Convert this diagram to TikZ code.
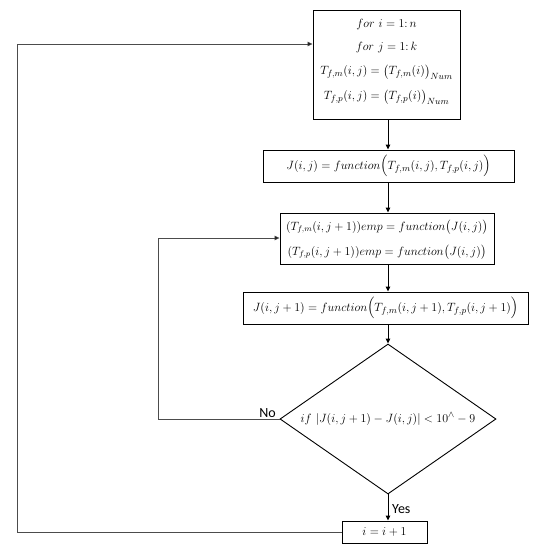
\documentclass[tikz,border=0pt]{standalone}
\usepackage{fontspec}
\usepackage{amsmath}
\newfontfamily\lblfont{Carlito}
\usetikzlibrary{shapes.geometric,arrows.meta}
\begin{document}
\begin{tikzpicture}[x=1pt,y=-1pt,
  box/.style={draw=black,line width=0.9pt,inner sep=0pt,font=\fontsize{12.5}{15}\selectfont},
  txt/.style={inner sep=0pt,font=\fontsize{12.5}{15}\selectfont},
  arr/.style={line width=1pt,-{Triangle[length=5pt,width=4.5pt]}},
  looparr/.style={draw=black!70,line width=0.8pt,-{Triangle[length=5pt,width=4.5pt,fill=black]}},
  lbl/.style={font=\lblfont\fontsize{14}{16}\selectfont,inner sep=0pt}]
\useasboundingbox (0,0) rectangle (536,550);
\node[box,minimum width=147pt,minimum height=109pt] (b1) at (386.5,64.5) {};
\node[txt] (b1a) at (386.5,24) {$for\ i=1{:}\,n$};
\node[txt] (b1b) at (386.5,47) {$for\ j=1{:}\,k$};
\node[txt] (b1c) at (386.5,72) {$T_{f,m}(i,j)=\bigl(T_{f,m}(i)\bigr)_{Num}$};
\node[txt] (b1d) at (386.5,97) {$T_{f,p}(i,j)=\bigl(T_{f,p}(i)\bigr)_{Num}$};
\node[box,minimum width=251pt,minimum height=32pt] (b2) at (388.5,166)
  {$J(i,j)=function\Bigl(T_{f,m}(i,j),T_{f,p}(i,j)\Bigr)$};
\node[box,minimum width=214pt,minimum height=51pt] (b3) at (387,238.5) {};
\node[txt,font=\fontsize{12}{14}\selectfont] (b3a) at (387,227) {$(T_{f,m}(i,j+1))emp=function\bigl(J(i,j)\bigr)$};
\node[txt,font=\fontsize{12}{14}\selectfont] (b3b) at (387,252) {$(T_{f,p}(i,j+1))emp=function\bigl(J(i,j)\bigr)$};
\node[box,minimum width=285pt,minimum height=32pt] (b4) at (385.5,308)
  {$J(i,j+1)=function\Bigl(T_{f,m}(i,j+1),T_{f,p}(i,j+1)\Bigr)$};
\node[draw=black,line width=0.9pt,diamond,shape aspect=1.44,inner sep=0pt,minimum width=216pt,minimum height=150pt] (d) at (388,419) {};
\node[txt] (dt) at (388,419) {$if\ |J(i,j+1)-J(i,j)|<10^{\wedge}-9$};
\node[box,minimum width=85pt,minimum height=22pt] (b5) at (384.5,532) {$i=i+1$};
\coordinate (nl) at (158,419);
\coordinate (nt) at (158,238);
\coordinate (yl) at (17,532);
\coordinate (yt) at (17,44);
\draw[arr] (d.north |- b1.south) -- (d.north |- b2.north);
\draw[arr] (d.north |- b2.south) -- (d.north |- b3.north);
\draw[arr] (d.north |- b3.south) -- (d.north |- b4.north);
\draw[arr] (d.north |- b4.south) -- (d.north);
\draw[arr] (d.south) -- (d.south |- b5.north);
\draw[looparr] (d.west) -- (nl) -- (nt) -- (b3.west |- nt);
\draw[looparr] (b5.west) -- (yl) -- (yt) -- (b1.west |- yt);
\node[lbl,anchor=south east] (no) at (276,418) {No};
\node[lbl,anchor=west] (yes) at (392,509) {Yes};
\end{tikzpicture}
\end{document}
